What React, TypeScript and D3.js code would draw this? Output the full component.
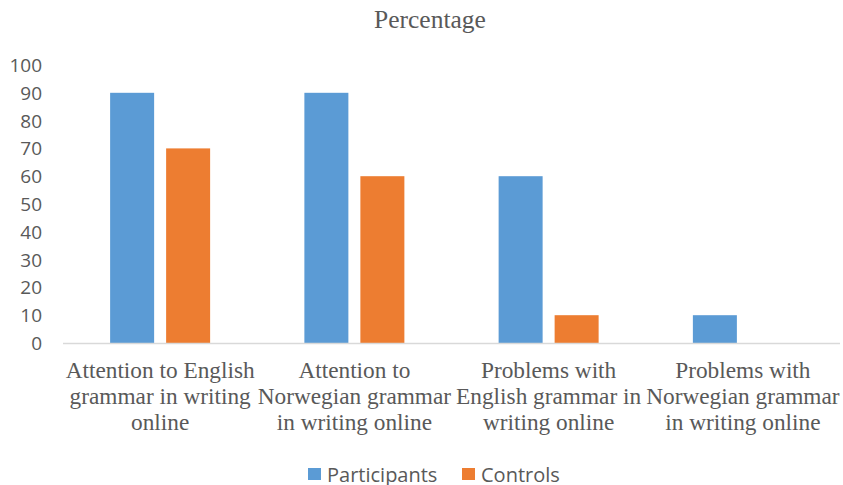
import React from "react";
import * as d3 from "d3";

const categories = [
  ["Attention to English", "grammar in writing", "online"],
  ["Attention to", "Norwegian grammar", "in writing online"],
  ["Problems with", "English grammar in", "writing online"],
  ["Problems with", "Norwegian grammar", "in writing online"],
];
const participants = [90, 90, 60, 10];
const controls = [70, 60, 10, 0];
const yTicks = [0, 10, 20, 30, 40, 50, 60, 70, 80, 90, 100];
const seriesNames = ["Participants", "Controls"];
const colors = ["#5B9BD5", "#ED7D31"];

export default function App() {
  const W = 843, H = 485;
  const left = 63, right = 840, top = 65, bottom = 343;
  const x = d3.scaleBand<number>().domain(d3.range(categories.length)).range([left, right]);
  const y = d3.scaleLinear().domain([0, 100]).range([bottom, top]);
  const barW = 44, gap = 12;
  const series = [participants, controls];
  return (
    <svg width={W} height={H} style={{ position: "absolute", left: 0, top: 0 }}>
      <rect width={W} height={H} fill="#fff" />
      <text x={430} y={28} textAnchor="middle" fontFamily="Liberation Serif" fontSize={25.5} fill="#595959">Percentage</text>
      {yTicks.map((t) => (
        <text key={t} x={42} y={y(t) + 7} textAnchor="end" fontFamily="Open Sans, Liberation Sans" fontSize={19} fill="#595959">{t}</text>
      ))}
      {series.map((s, si) =>
        s.map((v, i) => {
          const c = (x(i) as number) + x.bandwidth() / 2;
          const bx = si === 0 ? c - gap / 2 - barW : c + gap / 2;
          return <rect key={si + "-" + i} x={bx} y={y(v)} width={barW} height={bottom - y(v)} fill={colors[si]} />;
        })
      )}
      <line x1={left} x2={right} y1={bottom + 0.5} y2={bottom + 0.5} stroke="#D9D9D9" strokeWidth={1.3} />
      {categories.map((lines, i) => (
        <text key={i} textAnchor="middle" fontFamily="Liberation Serif" fontSize={23.3} fill="#595959">
          {lines.map((l, j) => (
            <tspan key={j} x={(x(i) as number) + x.bandwidth() / 2} y={378 + j * 26}>{l}</tspan>
          ))}
        </text>
      ))}
      <rect x={308} y={468} width={13} height={12} fill={colors[0]} />
      <text x={327} y={482} fontFamily="Open Sans, Liberation Sans" fontSize={20} fill="#595959">{seriesNames[0]}</text>
      <rect x={462} y={468} width={13} height={12} fill={colors[1]} />
      <text x={481} y={482} fontFamily="Open Sans, Liberation Sans" fontSize={20} fill="#595959">{seriesNames[1]}</text>
    </svg>
  );
}
